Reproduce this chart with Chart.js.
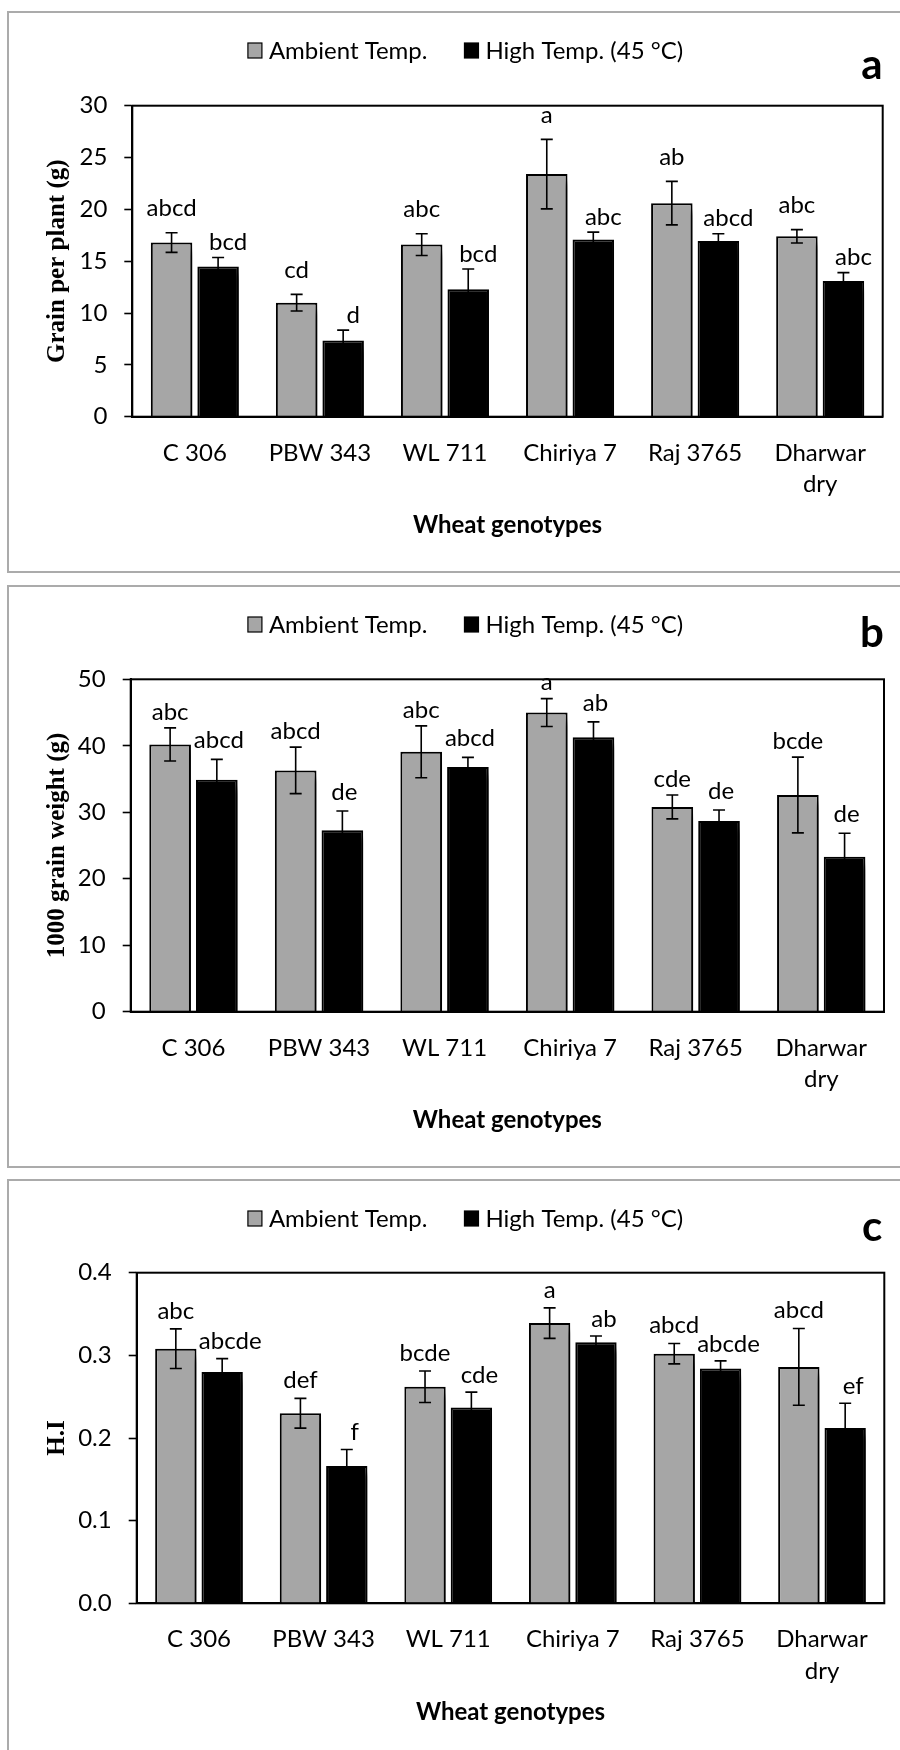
<!DOCTYPE html>
<html>
<head>
<meta charset="utf-8">
<script src="https://cdn.jsdelivr.net/npm/chart.js@4.4.1/dist/chart.umd.min.js"></script>
<style>
html, body { margin: 0; padding: 0; background: #fff; width: 900px; height: 1750px; overflow: hidden; }
.panel { position: absolute; left: 7px; width: 891px; border: 2px solid #ababab; background: #fff; }
.panel canvas { display: block; }
</style>
</head>
<body>
<div class="panel" style="top:11px;height:558px"><canvas id="chartA" width="891" height="558"></canvas></div>
<div class="panel" style="top:585px;height:579px"><canvas id="chartB" width="891" height="579"></canvas></div>
<div class="panel" style="top:1179px;height:579px"><canvas id="chartC" width="891" height="579"></canvas></div>
<script>
const genotypes = [['C 306'], ['PBW 343'], ['WL 711'], ['Chiriya 7'], ['Raj 3765'], ['Dharwar', 'dry']];
const seriesNames = ['Ambient Temp.', 'High Temp. (45 °C)'];

// a) grain per plant (g)
const grainAmbient = [16.8, 11.0, 16.6, 23.4, 20.6, 17.4];
const grainAmbientErr = [0.95, 0.8, 1.05, 3.35, 2.1, 0.65];
const grainHigh = [14.5, 7.35, 12.3, 17.1, 16.95, 13.1];
const grainHighErr = [0.85, 1.0, 1.95, 0.7, 0.7, 0.8];
const grainLettersAmbient = ['abcd', 'cd', 'abc', 'a', 'ab', 'abc'];
const grainLettersHigh = ['bcd', 'd', 'bcd', 'abc', 'abcd', 'abc'];

// b) 1000 grain weight (g)
const tgwAmbient = [40.2, 36.3, 39.1, 45.0, 30.8, 32.6];
const tgwAmbientErr = [2.5, 3.5, 3.9, 2.1, 1.8, 5.7];
const tgwHigh = [34.9, 27.3, 36.8, 41.3, 28.7, 23.3];
const tgwHighErr = [3.05, 2.9, 1.45, 2.3, 1.65, 3.55];
const tgwLettersAmbient = ['abc', 'abcd', 'abc', 'a', 'cde', 'bcde'];
const tgwLettersHigh = ['abcd', 'de', 'abcd', 'ab', 'de', 'de'];

// c) harvest index
const hiAmbient = [0.308, 0.230, 0.262, 0.339, 0.302, 0.286];
const hiAmbientErr = [0.024, 0.018, 0.019, 0.0185, 0.0123, 0.0464];
const hiHigh = [0.280, 0.166, 0.237, 0.316, 0.284, 0.212];
const hiHighErr = [0.016, 0.020, 0.0185, 0.0075, 0.0093, 0.030];
const hiLettersAmbient = ['abc', 'def', 'bcde', 'a', 'abcd', 'abcd'];
const hiLettersHigh = ['abcde', 'f', 'cde', 'ab', 'abcde', 'ef'];

const SANS = 'Lato, "Open Sans", sans-serif';
const SERIF = '"Liberation Serif", "Times New Roman", serif';
const GRAY = '#a6a6a6';

const barShadow = {
    id: 'barShadow',
    beforeDatasetDraw(chart) {
        const c = chart.ctx;
        c.save();
        c.shadowColor = 'rgba(0,0,0,0.5)';
        c.shadowBlur = 5;
        c.shadowOffsetX = 9;
        c.shadowOffsetY = 8;
    },
    afterDatasetDraw(chart) {
        chart.ctx.restore();
    }
};

function makePanel(canvasId, p) {
    const extras = {
        id: 'extras_' + canvasId,
        afterDatasetsDraw(chart) {
            const ctx = chart.ctx;
            const area = chart.chartArea;
            const y = chart.scales.y;
            ctx.save();
            // plot frame
            ctx.strokeStyle = '#000';
            ctx.lineWidth = 2;
            ctx.strokeRect(area.left, area.top, area.right - area.left, area.bottom - area.top);
            // error bars + significance letters
            ctx.lineWidth = 1.6;
            ctx.font = '24px ' + SANS;
            ctx.fillStyle = '#000';
            ctx.textAlign = 'center';
            ctx.textBaseline = 'middle';
            chart.data.datasets.forEach((ds, i) => {
                const meta = chart.getDatasetMeta(i);
                meta.data.forEach((bar, j) => {
                    const v = ds.data[j], e = p.errors[i][j];
                    const yt = y.getPixelForValue(v + e), yb = y.getPixelForValue(v - e);
                    ctx.beginPath();
                    ctx.moveTo(bar.x, yt); ctx.lineTo(bar.x, yb);
                    ctx.moveTo(bar.x - 6, yt); ctx.lineTo(bar.x + 6, yt);
                    ctx.moveTo(bar.x - 6, yb); ctx.lineTo(bar.x + 6, yb);
                    ctx.stroke();
                    ctx.fillText(p.letters[i][j], bar.x + p.letterShift[i], yt - p.letterGap[i]);
                });
            });
            ctx.restore();
        },
        afterDraw(chart) {
            const ctx = chart.ctx;
            ctx.save();
            // legend
            ctx.font = '24px ' + SANS;
            ctx.textBaseline = 'middle';
            ctx.textAlign = 'left';
            const boxW = 14, boxH = 15, boxGap = 7, itemGap = 37, cy = 37.5;
            const items = chart.data.datasets.map(d => ({ text: d.label, color: d.backgroundColor }));
            const widths = items.map(it => boxW + boxGap + ctx.measureText(it.text).width);
            const total = widths.reduce((a, b) => a + b, 0) + itemGap * (items.length - 1);
            let x = chart.width / 2 + 11 - total / 2;
            items.forEach((it, k) => {
                ctx.fillStyle = it.color;
                ctx.fillRect(x, cy - boxH / 2, boxW, boxH);
                ctx.strokeStyle = '#000';
                ctx.lineWidth = 1.2;
                ctx.strokeRect(x, cy - boxH / 2, boxW, boxH);
                ctx.fillStyle = '#000';
                ctx.fillText(it.text, x + boxW + boxGap, cy + 1);
                x += widths[k] + itemGap;
            });
            // panel letter
            ctx.font = 'bold 42px ' + SANS;
            ctx.textAlign = 'center';
            ctx.textBaseline = 'alphabetic';
            ctx.fillText(p.panel, 863, p.panelBase);
            ctx.restore();
        }
    };

    return new Chart(document.getElementById(canvasId).getContext('2d'), {
        type: 'bar',
        data: {
            labels: genotypes,
            datasets: [
                { label: seriesNames[0], data: p.ambient, backgroundColor: GRAY, borderColor: '#000', borderWidth: 2,
                  borderSkipped: 'start', categoryPercentage: 0.744, barPercentage: 0.892 },
                { label: seriesNames[1], data: p.high, backgroundColor: '#000', borderColor: '#000', borderWidth: 2,
                  borderSkipped: 'start', categoryPercentage: 0.744, barPercentage: 0.892 }
            ]
        },
        options: {
            responsive: false,
            animation: false,
            devicePixelRatio: 1,
            layout: { padding: { left: 0, top: p.top, right: p.right, bottom: p.bottom } },
            plugins: { legend: { display: false }, tooltip: { enabled: false } },
            scales: {
                x: {
                    offset: true,
                    grid: { display: false, drawTicks: false },
                    border: { display: true, color: '#000', width: 2 },
                    ticks: { color: '#000', font: { family: SANS, size: 24, lineHeight: 1.32 }, padding: 20.5,
                             maxRotation: 0, autoSkip: false },
                    title: { display: true, text: 'Wheat genotypes', color: '#000',
                             font: { family: SANS, size: 24, weight: 'bold', lineHeight: 1.2 },
                             padding: { top: 0, bottom: 7 } },
                    afterFit(scale) { scale.height = 130; }
                },
                y: {
                    min: 0, max: p.max,
                    grid: { display: true, drawOnChartArea: false, drawTicks: true, tickLength: 8,
                            tickColor: '#000', tickWidth: 1.6 },
                    border: { display: true, color: '#000', width: 2 },
                    ticks: { stepSize: p.step, color: '#000', font: { family: SANS, size: 24 }, padding: 17,
                             callback: p.fmt },
                    title: { display: true, text: p.yTitle, color: '#000',
                             font: { family: SERIF, size: 25, weight: 'bold', lineHeight: 1.2 },
                             padding: { top: 34, bottom: 0 } },
                    afterFit(scale) { scale.width = p.yWidth; }
                }
            }
        },
        plugins: [barShadow, extras]
    });
}

makePanel('chartA', {
    panel: 'a', panelBase: 66, yTitle: 'Grain per plant (g)', max: 30, step: 5, fmt: v => v,
    ambient: grainAmbient, high: grainHigh,
    errors: [grainAmbientErr, grainHighErr],
    letters: [grainLettersAmbient, grainLettersHigh],
    letterGap: [24, 15], letterShift: [0, 10],
    top: 92.7, right: 17.3, bottom: 24.3, yWidth: 123.3
});

makePanel('chartB', {
    panel: 'b', panelBase: 60, yTitle: '1000 grain weight (g)', max: 50, step: 10, fmt: v => v,
    ambient: tgwAmbient, high: tgwHigh,
    errors: [tgwAmbientErr, tgwHighErr],
    letters: [tgwLettersAmbient, tgwLettersHigh],
    letterGap: [16, 19], letterShift: [0, 2],
    top: 92.3, right: 16, bottom: 24.3, yWidth: 121.7
});

makePanel('chartC', {
    panel: 'c', panelBase: 60, yTitle: 'H.I', max: 0.4, step: 0.1, fmt: v => Number(v).toFixed(1),
    ambient: hiAmbient, high: hiHigh,
    errors: [hiAmbientErr, hiHighErr],
    letters: [hiLettersAmbient, hiLettersHigh],
    letterGap: [18, 17], letterShift: [0, 8],
    top: 91.7, right: 15.7, bottom: 26.7, yWidth: 127.7
});
</script>
</body>
</html>
